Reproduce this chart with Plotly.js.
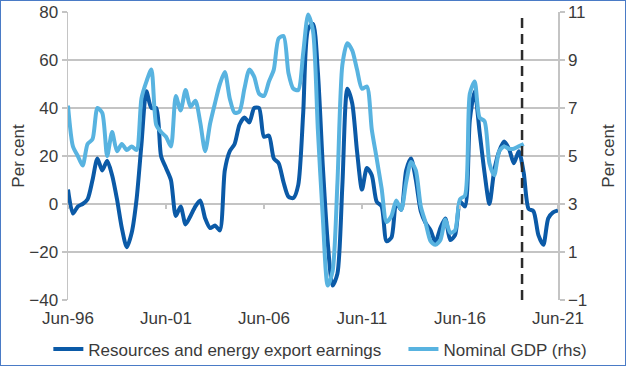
<!DOCTYPE html>
<html>
<head>
<meta charset="utf-8">
<script src="https://cdn.plot.ly/plotly-3.0.1.min.js"></script>
<style>
  html, body { margin: 0; padding: 0; background: #fff; }
  #frame { width: 626px; height: 366px; box-sizing: border-box; border: 1.5px solid #4A7BC6; overflow: hidden; }
  #chart { width: 623px; height: 363px; }
</style>
</head>
<body>
<div id="frame"><div id="chart"></div></div>
<script>
// Quarterly series, Jun-1996 to Jun-2021 (per cent, year-ended growth)
const startYear = 1996;
const startMonth = 6;

const resourcesExport = [
  6, -4, -1, 0, 2, 10, 19, 14, 18, 12,
  2, -10, -18, -12, 2, 25, 47, 40, 40, 20,
  15, 10, -5, -1, -8.5, -5, -1, 1.5, -6, -10,
  -9, -11, 14, 22, 25, 33, 36, 34, 40, 40,
  28, 28.5, 19, 17, 9, 3, 2.5, 8, 38, 73,
  75, 55, 16, -16, -34, -29, 8, 48, 42, 22,
  6, 15, 12, 1, -1, -15.5, -14, 0.5, -2.5, 14,
  19, 10, -3, -8, -11, -16, -10, -6, -15, -13,
  1, -1, 35, 47, 30, 13, 0, 14, 22, 26,
  23, 17, 22, 13, -2, -3, -13, -17, -6, -3.5,
  -2.7
];

const nominalGDP = [
  7.1, 5.4, 5.0, 4.6, 5.5, 5.7, 7.0, 6.8, 5.0, 6.0,
  5.2, 5.5, 5.25, 5.4, 5.25, 7.4, 8.1, 8.6, 6.3, 6.0,
  5.8, 5.4, 7.5, 6.9, 7.75, 7.05, 7.3, 6.4, 5.2, 6.35,
  7.2, 8.0, 8.5, 7.4, 6.8, 6.85, 7.8, 8.6, 8.3, 7.6,
  7.5, 8.1, 8.6, 9.9, 10.0, 8.45, 7.8, 7.75, 9.3, 10.9,
  10.2, 6.1, 2.45, -0.4, 0.2, 3.9, 8.8, 9.7, 9.4, 8.6,
  7.8, 7.9, 6.1, 4.9, 3.65, 2.25, 2.5, 3.15, 2.75, 3.9,
  4.75, 4.4, 2.9, 2.2, 1.45, 1.3, 1.5, 2.35, 1.8, 1.9,
  3.2, 3.35, 7.6, 8.1, 6.6, 6.45, 4.7, 4.2, 5.2, 5.4,
  5.3, 5.3, 5.4, 5.5
];

const tickDates = ['1996-06-01', '2001-06-01', '2006-06-01', '2011-06-01', '2016-06-01', '2021-06-01'];
const tickLabels = ['Jun-96', 'Jun-01', 'Jun-06', 'Jun-11', 'Jun-16', 'Jun-21'];
const leftTicks = [-40, -20, 0, 20, 40, 60, 80];
const rightTicks = [-1, 1, 3, 5, 7, 9, 11];
const forecastStart = '2019-08-01';
const seriesNames = ['Resources and energy export earnings', 'Nominal GDP (rhs)'];

function quarterDate(i) {
  const m0 = (startMonth - 1) + 3 * i;
  const y = startYear + Math.floor(m0 / 12);
  const m = (m0 % 12) + 1;
  return y + '-' + String(m).padStart(2, '0') + '-01';
}
const datesDark = resourcesExport.map((_, i) => quarterDate(i));
const datesLight = nominalGDP.map((_, i) => quarterDate(i));

const dark = '#0B5AA7';
const light = '#58B3E0';
const grid = '#C4C4C4';
const txt = '#3A3A3A';
const font = { family: 'Liberation Sans, Arial, sans-serif', size: 17, color: txt };

const traces = [
  {
    x: datesDark, y: resourcesExport, name: seriesNames[0], type: 'scatter', mode: 'lines',
    line: { color: dark, width: 4, shape: 'spline', smoothing: 0.7 }, xaxis: 'x', yaxis: 'y',
    legend: 'legend'
  },
  {
    x: datesLight, y: nominalGDP, name: seriesNames[1], type: 'scatter', mode: 'lines',
    line: { color: light, width: 4, shape: 'spline', smoothing: 0.7 }, xaxis: 'x', yaxis: 'y2',
    legend: 'legend2'
  }
];

const xRange = [tickDates[0], tickDates[tickDates.length - 1]];
const legendBase = {
  orientation: 'h', xref: 'container', xanchor: 'left',
  yref: 'container', y: 0.04, yanchor: 'middle',
  font: font, itemwidth: 30, bgcolor: 'rgba(0,0,0,0)'
};

const layout = {
  width: 623, height: 363,
  margin: { l: 67, r: 66, t: 11, b: 64, pad: 0 },
  paper_bgcolor: '#fff', plot_bgcolor: '#fff',
  font: font,
  showlegend: true,
  legend: Object.assign({}, legendBase, { x: 0.076 }),
  legend2: Object.assign({}, legendBase, { x: 0.646 }),
  xaxis: {
    type: 'date', range: xRange, tickvals: tickDates, ticktext: tickLabels,
    showgrid: false, zeroline: false, showline: false, ticks: '', tickfont: font,
    ticklabelstandoff: 6
  },
  xaxis2: {
    type: 'date', range: xRange, tickvals: tickDates, overlaying: 'x', anchor: 'free',
    position: 1 / 3, showticklabels: false, showgrid: false, zeroline: false, showline: false,
    ticks: 'outside', ticklen: 4, tickwidth: 1.5, tickcolor: grid
  },
  yaxis: {
    range: [-40, 80], tickvals: leftTicks, showgrid: true, gridcolor: grid, gridwidth: 1.5,
    zeroline: false, showline: true, linecolor: grid, linewidth: 1.5,
    ticks: 'outside', ticklen: 5, tickwidth: 1.5, tickcolor: grid, tickfont: font,
    title: { text: 'Per cent', font: font, standoff: 0 }
  },
  yaxis2: {
    range: [-1, 11], tickvals: rightTicks, overlaying: 'y', side: 'right', showgrid: false,
    zeroline: false, showline: true, linecolor: grid, linewidth: 1.5,
    ticks: 'outside', ticklen: 5, tickwidth: 1.5, tickcolor: grid, tickfont: font,
    title: { text: 'Per cent', font: font, standoff: 16 }
  },
  shapes: [{
    type: 'line', xref: 'x', yref: 'paper', x0: forecastStart, x1: forecastStart, y0: 0, y1: 1,
    line: { color: '#2B2B2B', width: 2.5, dash: '10px,6px' }
  }]
};

// helper trace on xaxis2 so its tick marks on the zero line are drawn
traces.push({ x: [xRange[0]], y: [null], xaxis: 'x2', yaxis: 'y', showlegend: false, hoverinfo: 'skip', mode: 'lines' });

Plotly.newPlot('chart', traces, layout, { displayModeBar: false, staticPlot: true });
</script>
</body>
</html>
